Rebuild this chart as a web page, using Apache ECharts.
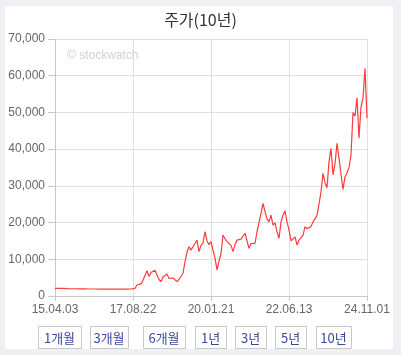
<!DOCTYPE html>
<html>
<head>
<meta charset="utf-8">
<script src="https://cdn.jsdelivr.net/npm/echarts@6/dist/echarts.min.js"></script>
<style>
html,body{margin:0;padding:0;background:#eef0f3;}
#c{width:401px;height:355px;}
</style>
</head>
<body>
<div id="c"></div>
<script>
var tickLabels = ['15.04.03','17.08.22','20.01.21','22.06.13','24.11.01'];
var prices = [
2100,2120,2080,2060,2050,2040,2000,2010,1980,1990,
1970,1960,1950,1960,1940,1930,1920,1930,1910,1900,
1910,1900,1890,1900,1890,1880,1890,1900,1880,1890,
1880,1870,1880,1890,1880,1870,1880,1890,1900,1950,
2100,3000,2800,3300,4300,4000,6900,5300,6400,6800,
7000,5700,4500,3900,5200,5600,6000,4800,4300,4900,
4500,3900,4500,5000,6200,9300,12000,13400,12500,13000,
14300,15200,12100,13800,14400,17500,15000,14000,14800,12500,
10300,7100,9500,11500,16600,15600,14800,14500,13800,12100,
14000,15200,15600,15500,15200,17100,15000,13000,14300,14400,
14300,17500,20000,22500,25200,23000,21000,20200,22000,19300,
19900,17500,15700,20200,22000,23200,20200,18000,15000,14500,
16100,13900,15200,15500,16500,18900,18300,18000,18900,20200,
21000,22000,25000,28400,33400,30800,29500,36600,40200,33000,
36000,41600,37500,37000,29000,32500,33500,35000,38400,50000,
49000,54000,43000,51600,53800,62000,48400
];
var buttonLabels = ['1개월','3개월','6개월','1년','3년','5년','10년'];

var step = (prices.length - 1) / (tickLabels.length - 1);
var cats = prices.map(function(v, i){ return String(i); });

var btnBox = [[38,81],[90,128],[143,185],[195,226],[235,266],[275,306],[316,351]];
var graphics = [{
  type:'rect', z:-10, silent:true,
  shape:{x:5,y:6,width:388,height:343},
  style:{fill:'#ffffff'}
},{
  type:'text', left:67, top:50, z:1,
  style:{text:'© stockwatch', fill:'#d0d0d0', font:'12px "Liberation Sans", Arial, sans-serif'}
}];
buttonLabels.forEach(function(t, i){
  var b = btnBox[i];
  graphics.push({
    type:'rect', shape:{x:b[0]+0.5,y:326.5,width:b[1]-b[0],height:22},
    style:{fill:'#ffffff', stroke:'#c8c8c8', lineWidth:1}
  });
  graphics.push({
    type:'text', x:(b[0]+b[1])/2, y:338,
    style:{text:t, fill:'#3a4a9c', font:'13px "Noto Sans CJK KR", sans-serif', align:'center', verticalAlign:'middle'}
  });
});

var chart = echarts.init(document.getElementById('c'));
chart.setOption({
  backgroundColor:'#eef0f3',
  animation:false,
  title:{
    text:'주가(10년)', left:'center', top:7,
    textStyle:{fontFamily:'"Noto Sans CJK KR", sans-serif', fontSize:16, fontWeight:'normal', color:'#333'}
  },
  grid:{left:55, right:34, top:39, bottom:59, containLabel:false},
  xAxis:{
    type:'category', data:cats, boundaryGap:false,
    axisLine:{lineStyle:{color:'#c8c8c8'}},
    axisTick:{show:true, interval:step-1, length:5, lineStyle:{color:'#c8c8c8'}},
    splitLine:{show:true, interval:step-1, lineStyle:{color:'#e0e0e0'}},
    axisLabel:{
      interval:step-1, color:'#666', fontSize:12, margin:8,
      fontFamily:'"Liberation Sans", Arial, sans-serif',
      formatter:function(v){ var i = Number(v); return (i % step === 0) ? tickLabels[i/step] : ''; }
    }
  },
  yAxis:{
    type:'value', min:0, max:70000, interval:10000,
    axisLine:{show:true, lineStyle:{color:'#c8c8c8'}},
    axisTick:{show:true, length:7, lineStyle:{color:'#c8c8c8'}},
    splitLine:{lineStyle:{color:'#e0e0e0'}},
    axisLabel:{
      color:'#666', fontSize:12, margin:10,
      fontFamily:'"Liberation Sans", Arial, sans-serif',
      formatter:function(v){ return v.toLocaleString('en-US'); }
    }
  },
  graphic:graphics,
  series:[{
    type:'line', data:prices, showSymbol:false, symbol:'none',
    lineStyle:{color:'#ff3a3a', width:1.2},
    z:3
  }]
});
</script>
</body>
</html>
